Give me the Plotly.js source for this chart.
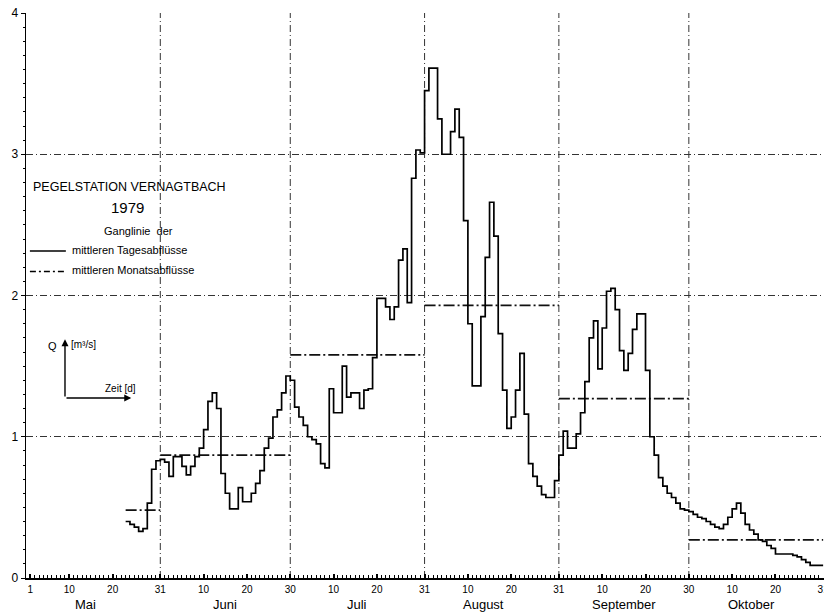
<!DOCTYPE html>
<html><head><meta charset="utf-8">
<script src="https://cdn.plot.ly/plotly-3.0.1.min.js"></script>
<style>html,body{margin:0;padding:0;background:#fff}#chart{width:824px;height:616px}</style>
</head><body><div id="chart"></div>
<script>
// Pegelstation Vernagtbach 1979 – daily mean discharge Q [m³/s]
// Day numbers count from 1 May (= day 1); the value of day n covers [n-1, n].
const firstDay = 24; // 24 May
const mayQ  = [0.40,0.38,0.36,0.33,0.35,0.53,0.77,0.83];
const juneQ = [0.84,0.82,0.72,0.86,0.86,0.79,0.73,0.79,0.86,0.92,
               1.05,1.25,1.31,1.20,0.74,0.60,0.49,0.49,0.64,0.54,
               0.54,0.60,0.67,0.76,0.92,0.99,1.14,1.19,1.31,1.43];
const julyQ = [1.40,1.21,1.14,1.08,1.00,0.98,0.95,0.81,0.78,1.34,
               1.17,1.17,1.50,1.28,1.31,1.31,1.20,1.33,1.34,1.56,
               1.98,1.98,1.92,1.83,1.92,2.25,2.33,1.95,2.83,3.03,3.01];
const augQ  = [3.45,3.61,3.61,3.25,3.00,3.00,3.16,3.32,3.12,2.53,
               1.80,1.36,1.36,1.85,2.27,2.66,2.42,1.73,1.33,1.06,
               1.14,1.33,1.59,1.16,0.81,0.72,0.65,0.59,0.57,0.57,0.69];
const sepQ  = [0.87,1.04,0.92,0.92,1.02,1.17,1.39,1.70,1.82,1.48,
               1.77,2.03,2.05,1.90,1.61,1.47,1.59,1.76,1.87,1.87,
               1.47,1.00,0.87,0.71,0.65,0.60,0.57,0.53,0.49,0.48];
const octQ  = [0.47,0.45,0.43,0.42,0.40,0.38,0.36,0.35,0.38,0.43,
               0.49,0.53,0.46,0.38,0.34,0.31,0.27,0.26,0.23,0.21,
               0.17,0.17,0.17,0.17,0.16,0.15,0.13,0.11,0.09,0.09,0.09];

// monthly means
const monthNames   = ['Mai','Juni','Juli','August','September','Oktober'];
const monthStart   = [0,31,61,92,123,153];
const monthEnd     = [31,61,92,123,153,184];
const monthMeanQ   = [0.48,0.87,1.58,1.93,1.27,0.27];

// x tick labels (day of month at the day-number positions)
const tickDays   = [1,10,20,31,41,51,61,71,81,92,102,112,123,133,143,153,163,173,184];
const tickLabels = ['1','10','20','31','10','20','30','10','20','31','10','20','31','10','20','30','10','20','31'];

const dailyQ = [].concat(mayQ, juneQ, julyQ, augQ, sepQ, octQ);
const dx = [], dy = [];
dailyQ.forEach((q, i) => { dx.push(firstDay - 1 + i); dy.push(q); });
dx.push(firstDay - 1 + dailyQ.length); dy.push(dailyQ[dailyQ.length - 1]);

const mx = [], my = [];
monthMeanQ.forEach((m, i) => {
  const s = (i === 0) ? firstDay - 1 : monthStart[i];
  mx.push(s, monthEnd[i], null); my.push(m, m, null);
});

const FONT = 'Liberation Sans, Arial, sans-serif';
const meanDash = '11px,3px,2px,3px';
const gridDash = '7px,3px,1px,3px';

const traces = [
  {x: mx, y: my, type: 'scatter', mode: 'lines', name: 'mittleren Monatsabflüsse',
   line: {color: '#111', width: 1.7, dash: meanDash}, hoverinfo: 'skip'},
  {x: dx, y: dy, type: 'scatter', mode: 'lines', name: 'mittleren Tagesabflüsse',
   line: {color: '#000', width: 1.7, shape: 'hv'}}
];

const shapes = [];
monthEnd.slice(0, 5).forEach(d => shapes.push({
  type: 'line', xref: 'x', yref: 'y', x0: d, x1: d, y0: 0, y1: 4, layer: 'below',
  line: {color: '#333', width: 1, dash: gridDash}
}));
// legend samples
shapes.push({type: 'line', xref: 'x', yref: 'y', x0: 0.9, x1: 9.2, y0: 2.315, y1: 2.315,
  line: {color: '#000', width: 1.4}});
shapes.push({type: 'line', xref: 'x', yref: 'y', x0: 0.9, x1: 9.2, y0: 2.17, y1: 2.17,
  line: {color: '#000', width: 1.4, dash: '6px,3px,2px,3px'}});

const annotations = [
  {x: 23.8, y: 2.77, xref: 'x', yref: 'y', text: 'PEGELSTATION VERNAGTBACH', showarrow: false,
   font: {family: FONT, size: 12.5}},
  {x: 23.5, y: 2.62, xref: 'x', yref: 'y', text: '1979', showarrow: false,
   font: {family: FONT, size: 15}},
  {x: 26, y: 2.46, xref: 'x', yref: 'y', text: 'Ganglinie  der', showarrow: false,
   font: {family: FONT, size: 11}},
  {x: 10.2, y: 2.325, xref: 'x', yref: 'y', xanchor: 'left', text: 'mittleren Tagesabflüsse', showarrow: false,
   font: {family: FONT, size: 11}},
  {x: 10.2, y: 2.18, xref: 'x', yref: 'y', xanchor: 'left', text: 'mittleren Monatsabflüsse', showarrow: false,
   font: {family: FONT, size: 11}},
  {x: 6.2, y: 1.645, xref: 'x', yref: 'y', text: 'Q', showarrow: false, font: {family: FONT, size: 11}},
  {x: 9.9, y: 1.655, xref: 'x', yref: 'y', xanchor: 'left', text: '[m³/s]', showarrow: false,
   font: {family: FONT, size: 10}},
  {x: 17.8, y: 1.345, xref: 'x', yref: 'y', xanchor: 'left', text: 'Zeit [d]', showarrow: false,
   font: {family: FONT, size: 10}},
  // axis arrows
  {x: 9.0, y: 1.69, ax: 9.0, ay: 1.274, xref: 'x', yref: 'y', axref: 'x', ayref: 'y', text: '',
   showarrow: true, arrowhead: 2, arrowsize: 1, arrowwidth: 1.4, arrowcolor: '#000'},
  {x: 24.3, y: 1.274, ax: 9.0, ay: 1.274, xref: 'x', yref: 'y', axref: 'x', ayref: 'y', text: '',
   showarrow: true, arrowhead: 2, arrowsize: 1, arrowwidth: 1.4, arrowcolor: '#000'}
];
const monthLabelShift = [-8, 0, 0, -8, 0, -4];
monthNames.forEach((n, i) => annotations.push({
  x: (monthStart[i] + monthEnd[i]) / 2, y: 0, xref: 'x', yref: 'paper', yanchor: 'middle', yshift: -26,
  xshift: monthLabelShift[i],
  text: n, showarrow: false, font: {family: FONT, size: 13}
}));

const layout = {
  width: 824, height: 616,
  margin: {l: 26, r: 0, t: 13, b: 38, pad: 0},
  paper_bgcolor: '#fff', plot_bgcolor: '#fff',
  showlegend: false,
  font: {family: FONT, color: '#000', size: 11},
  xaxis: {
    range: [0, 184.2], tickmode: 'array', tickvals: tickDays, ticktext: tickLabels,
    ticks: 'inside', ticklen: 4, tickwidth: 2, tickcolor: '#000',
    showline: true, linecolor: '#000', linewidth: 1.5, showgrid: false, zeroline: false,
    tickfont: {family: FONT, size: 10}, ticklabelstandoff: 1, ticklabeloverflow: 'allow',
    minor: {tickmode: 'linear', tick0: 0, dtick: 1, ticks: 'inside', ticklen: 3, tickwidth: 1, tickcolor: '#000', showgrid: false}
  },
  yaxis: {
    range: [0, 4], tickmode: 'array', tickvals: [0, 1, 2, 3, 4],
    ticks: 'outside', ticklen: 4, tickcolor: '#000',
    showline: true, linecolor: '#000', linewidth: 1.5,
    showgrid: true, gridcolor: '#333', gridwidth: 1, griddash: gridDash, zeroline: false,
    tickfont: {family: FONT, size: 12},
    minor: {tickmode: 'linear', tick0: 0, dtick: 0.1, ticks: 'outside', ticklen: 2, tickcolor: '#000', showgrid: false}
  },
  shapes: shapes,
  annotations: annotations
};

Plotly.newPlot('chart', traces, layout, {staticPlot: true, displayModeBar: false});
</script>
</body></html>
